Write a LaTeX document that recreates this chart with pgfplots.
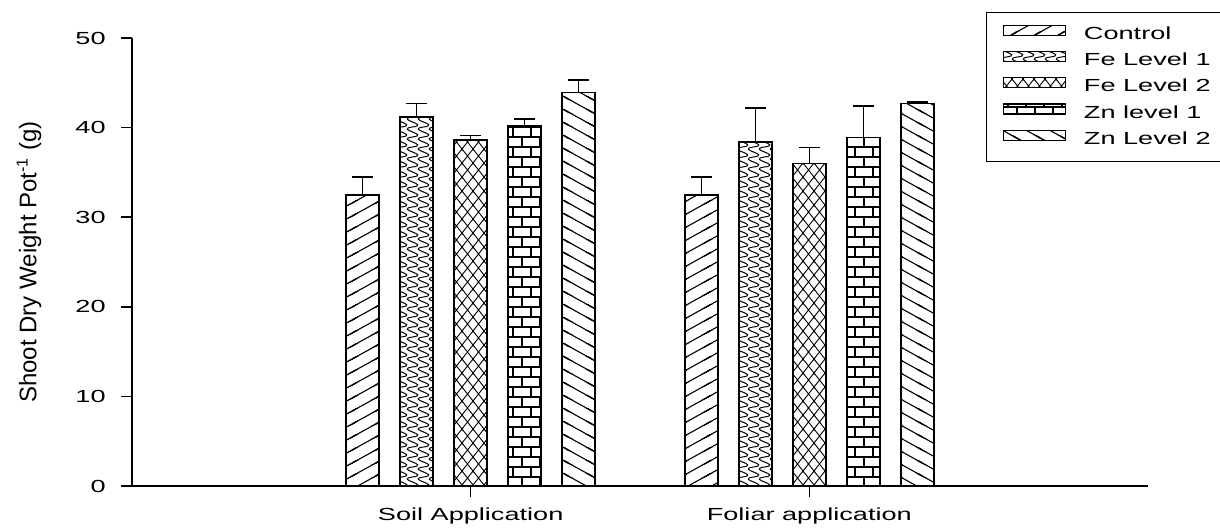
\documentclass[border=0pt]{standalone}
\usepackage{fontspec}
\setmainfont{Liberation Sans}[FakeStretch=1.55]
\newfontfamily\ylabfont{Liberation Sans}
\usepackage{pgfplots}
\pgfplotsset{compat=1.18}
\usetikzlibrary{patterns}

% Control: lines rising to the right
\pgfdeclarepatternformonly{ctrl}{\pgfpoint{-1pt}{-1pt}}{\pgfpoint{12.8pt}{7.5pt}}{\pgfpoint{11.8pt}{6.5pt}}{%
  \pgfsetlinewidth{0.55pt}%
  \pgfpathmoveto{\pgfpoint{-1pt}{-0.55pt}}\pgfpathlineto{\pgfpoint{12.8pt}{7.05pt}}%
  \pgfpathmoveto{\pgfpoint{-1pt}{-7.05pt}}\pgfpathlineto{\pgfpoint{12.8pt}{0.55pt}}%
  \pgfpathmoveto{\pgfpoint{-1pt}{5.95pt}}\pgfpathlineto{\pgfpoint{12.8pt}{13.55pt}}%
  \pgfusepath{stroke}}
% Zn level 2: lines falling to the right
\pgfdeclarepatternformonly{zntwo}{\pgfpoint{-1pt}{-1pt}}{\pgfpoint{12.8pt}{7.5pt}}{\pgfpoint{11.8pt}{6.5pt}}{%
  \pgfsetlinewidth{0.55pt}%
  \pgfpathmoveto{\pgfpoint{-1pt}{7.05pt}}\pgfpathlineto{\pgfpoint{12.8pt}{-0.55pt}}%
  \pgfpathmoveto{\pgfpoint{-1pt}{0.55pt}}\pgfpathlineto{\pgfpoint{12.8pt}{-7.05pt}}%
  \pgfpathmoveto{\pgfpoint{-1pt}{13.55pt}}\pgfpathlineto{\pgfpoint{12.8pt}{5.95pt}}%
  \pgfusepath{stroke}}
% Zn level 1: bricks
\pgfdeclarepatternformonly{znone}{\pgfpoint{-0.5pt}{-0.5pt}}{\pgfpoint{9.5pt}{10.5pt}}{\pgfpoint{9pt}{10pt}}{%
  \pgfsetlinewidth{0.55pt}%
  \pgfpathmoveto{\pgfpoint{-0.5pt}{0pt}}\pgfpathlineto{\pgfpoint{9.5pt}{0pt}}%
  \pgfpathmoveto{\pgfpoint{-0.5pt}{5pt}}\pgfpathlineto{\pgfpoint{9.5pt}{5pt}}%
  \pgfpathmoveto{\pgfpoint{-0.5pt}{10pt}}\pgfpathlineto{\pgfpoint{9.5pt}{10pt}}%
  \pgfpathmoveto{\pgfpoint{0pt}{0pt}}\pgfpathlineto{\pgfpoint{0pt}{5pt}}%
  \pgfpathmoveto{\pgfpoint{9pt}{0pt}}\pgfpathlineto{\pgfpoint{9pt}{5pt}}%
  \pgfpathmoveto{\pgfpoint{4.5pt}{5pt}}\pgfpathlineto{\pgfpoint{4.5pt}{10pt}}%
  \pgfusepath{stroke}}
% Fe level 1: wavy S columns
\pgfdeclarepatternformonly{feone}{\pgfpoint{-1pt}{-0.5pt}}{\pgfpoint{6.5pt}{5.5pt}}{\pgfpoint{5.5pt}{5pt}}{%
  \pgfsetlinewidth{0.5pt}%
  \pgfpathmoveto{\pgfpoint{2.75pt}{0pt}}%
  \pgfpathcurveto{\pgfpoint{12pt}{1.25pt}}{\pgfpoint{-6.5pt}{3.75pt}}{\pgfpoint{2.75pt}{5pt}}%
  \pgfusepath{stroke}}
% Fe level 2: crossing zigzag
\pgfdeclarepatternformonly{fetwo}{\pgfpoint{-0.5pt}{-0.5pt}}{\pgfpoint{6pt}{7.5pt}}{\pgfpoint{5.5pt}{7pt}}{%
  \pgfsetlinewidth{0.45pt}%
  \pgfpathmoveto{\pgfpoint{-0.5pt}{-0.636pt}}\pgfpathlineto{\pgfpoint{6pt}{7.636pt}}%
  \pgfpathmoveto{\pgfpoint{-0.5pt}{7.636pt}}\pgfpathlineto{\pgfpoint{6pt}{-0.636pt}}%
  \pgfusepath{stroke}}

\pgfplotsset{
  mybar/.style={draw=black, line width=0.8pt, pattern color=black,
    error bars/.cd, y dir=plus, y explicit, error mark=|,
    error bar style={line width=0.8pt, black},
    error mark options={mark size=5.25pt, line width=0.8pt, black},
    /pgfplots/.cd,
    legend image code/.code={\draw[##1, line width=0.6pt] (0pt,-0.3pt) rectangle (31pt,4.7pt);}},
}

\begin{document}
\begin{tikzpicture}
\begin{axis}[
  scale only axis, width=508pt, height=224pt,
  xmin=-1, xmax=2, ymin=0, ymax=50,
  axis x line*=bottom, axis y line*=left,
  axis line style={line width=0.8pt, -},
  xtick={0,1}, xticklabels={Soil Application, Foliar application},
  ytick={0,10,20,30,40,50},
  tick align=outside, major tick length=5.5pt,
  tick style={line width=0.8pt, black},
  ticklabel style={font=\fontsize{8.75}{10}\selectfont},
  /pgf/number format/assume math mode=true,
  yticklabel style={inner sep=0pt, anchor=east, xshift=-7.5pt},
  xticklabel style={inner sep=0pt, anchor=north, yshift=-5pt},
  ylabel={\ylabfont Shoot Dry Weight Pot\textsuperscript{-1} (g)},
  ylabel style={font=\fontsize{12}{14}\selectfont, at={(axis description cs:-0.1014,0.5)}, anchor=center},
  ybar=10.5pt, bar width=16.5pt,
  legend cell align=left,
  legend style={at={(axis description cs:0.8406,1.058)}, anchor=north west,
    draw=black, line width=0.7pt, font=\fontsize{8.75}{10}\selectfont,
    inner xsep=8pt, inner ysep=5pt, row sep=1.3pt, column sep=7pt},
]
\addplot[mybar, pattern=ctrl] coordinates {(0,32.5) +- (0,2.0) (1,32.5) +- (0,2.0)};
\addplot[mybar, pattern=feone] coordinates {(0,41.2) +- (0,1.5) (1,38.4) +- (0,3.8)};
\addplot[mybar, pattern=fetwo] coordinates {(0,38.6) +- (0,0.5) (1,36.0) +- (0,1.8)};
\addplot[mybar, pattern=znone] coordinates {(0,40.2) +- (0,0.75) (1,38.9) +- (0,3.5)};
\addplot[mybar, pattern=zntwo] coordinates {(0,43.9) +- (0,1.4) (1,42.7) +- (0,0.15)};
\legend{Control, Fe Level 1, Fe Level 2, Zn level 1, Zn Level 2}
\end{axis}
\pgfresetboundingbox
\path[use as bounding box] (-66pt,-20.5pt) rectangle (544pt,243pt);
\end{tikzpicture}
\end{document}
